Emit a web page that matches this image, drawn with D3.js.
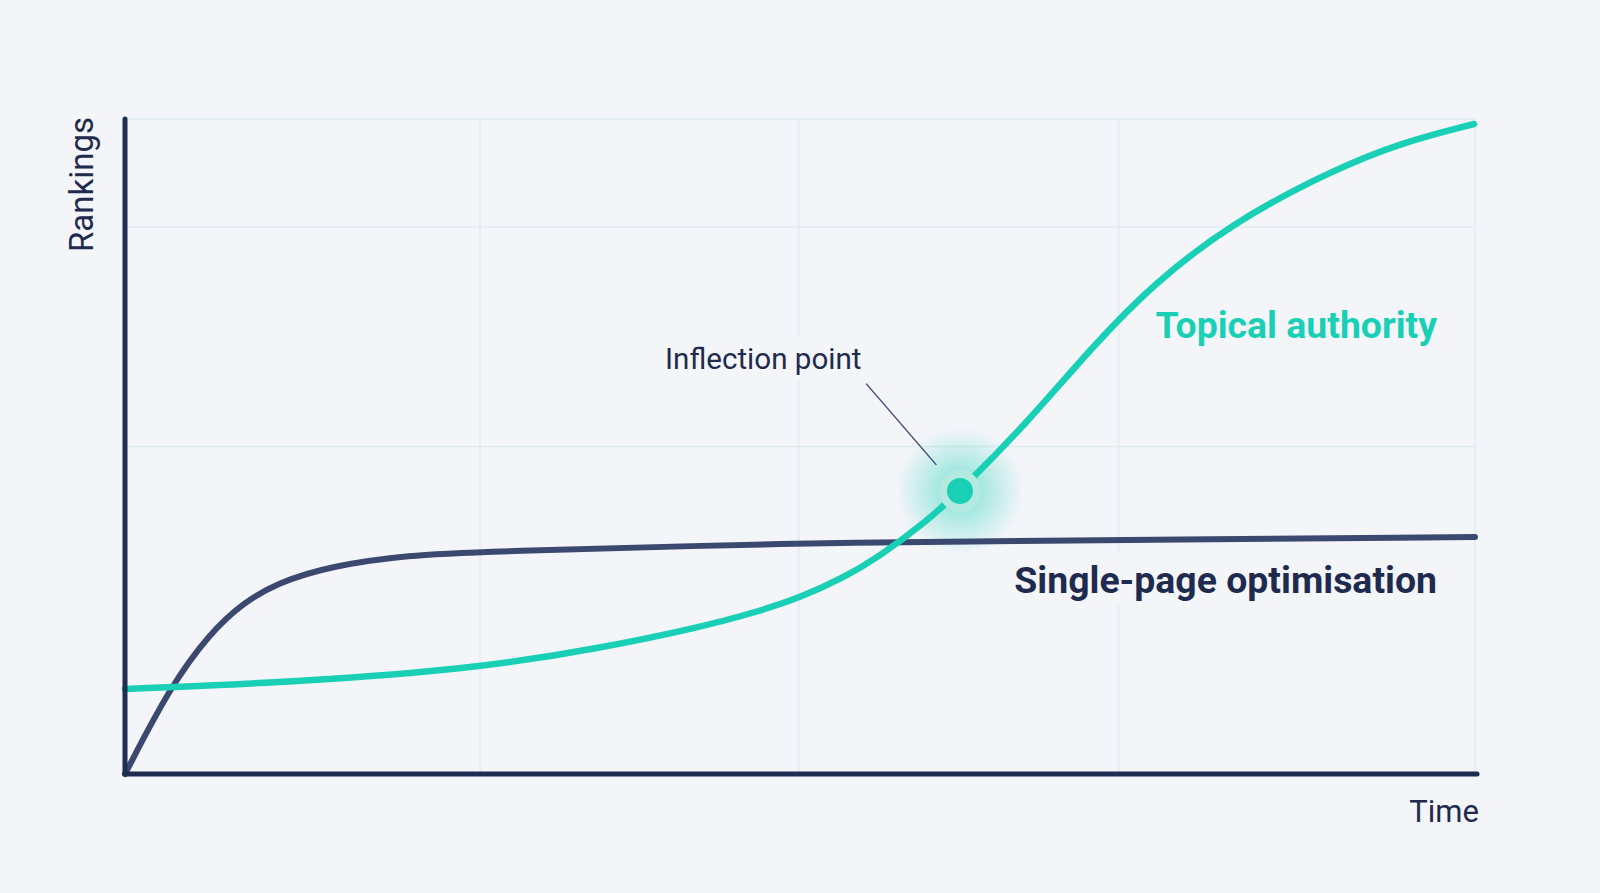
<!DOCTYPE html>
<html>
<head>
<meta charset="utf-8">
<script src="https://cdn.jsdelivr.net/npm/d3@7"></script>
<style>
    html, body { margin: 0; padding: 0; background: #f4f5f9; }
    svg { display: block; font-family: Roboto, "Noto Sans", sans-serif; }
</style>
</head>
<body>
<div id="chart"></div>
<script>
// Time runs 0..100 along x, rankings 0..100 up y
const timeTicks = [26.3, 49.9, 73.6, 100];
const rankTicks = [50, 83.5, 100];

const singlePageTime = [0, 3.33, 6.3, 8.74, 11.26, 15.19, 21.11, 26.3, 50, 64.81, 100];
const singlePageRank = [0, 13.28, 21.53, 26.11, 29.16, 31.76, 33.44, 33.94, 35.27, 35.57, 36.18];

const topicalTime = [0, 12.96, 26.3, 35.19, 42.59, 47.04, 50, 53.19, 55.7, 59.41, 61.85, 66.81, 71.7, 76.15, 82.07, 89.48, 94.44, 99.93];
const topicalRank = [12.98, 14.05, 16.18, 19.2, 22.38, 24.89, 26.92, 29.93, 32.93, 38.6, 43.21, 53.59, 65.34, 74.81, 84.27, 92.21, 96.34, 99.24];

const inflection = { time: 61.85, rank: 43.21 };
const leaderFrom = { time: 54.9, rank: 59.6 };
const leaderTo = { time: 60.1, rank: 47.2 };

const labels = {
    yAxis: "Rankings",
    xAxis: "Time",
    inflection: "Inflection point",
    topical: "Topical authority",
    singlePage: "Single-page optimisation"
};

const colors = {
    background: "#f4f5f9",
    axis: "#1f2d52",
    singlePage: "#3b4870",
    topical: "#19d0b6",
    grid: "#dfecef",
    text: "#1f2b4e"
};

const width = 1600;
const height = 893;

const svg = d3.select("#chart")
    .append("svg")
        .attr("width", width)
        .attr("height", height);

svg.append("rect")
    .attr("width", width)
    .attr("height", height)
    .attr("fill", colors.background);

const x = d3.scaleLinear().domain([0, 100]).range([125, 1475]);
const y = d3.scaleLinear().domain([0, 100]).range([774, 119]);

// Grid
const grid = svg.append("g");
grid.selectAll(".vgrid")
    .data(timeTicks)
    .enter()
    .append("line")
        .attr("x1", d => x(d)).attr("x2", d => x(d))
        .attr("y1", y(100)).attr("y2", y(0))
        .attr("stroke", colors.grid)
        .attr("stroke-width", 1.5);
grid.selectAll(".hgrid")
    .data(rankTicks)
    .enter()
    .append("line")
        .attr("x1", x(0)).attr("x2", x(100))
        .attr("y1", d => y(d)).attr("y2", d => y(d))
        .attr("stroke", colors.grid)
        .attr("stroke-width", 1.5);

// Glow behind the inflection point
const defs = svg.append("defs");
const glow = defs.append("radialGradient").attr("id", "glow");
[
    { offset: "0%", opacity: 0.55 },
    { offset: "45%", opacity: 0.3 },
    { offset: "100%", opacity: 0 }
].forEach(s => {
    glow.append("stop")
        .attr("offset", s.offset)
        .attr("stop-color", colors.topical)
        .attr("stop-opacity", s.opacity);
});

svg.append("circle")
    .attr("cx", x(inflection.time))
    .attr("cy", y(inflection.rank))
    .attr("r", 64)
    .attr("fill", "url(#glow)");

// Lines (B-spline to keep the hand-read points smooth)
const line = d3.line()
    .x(d => x(d[0]))
    .y(d => y(d[1]))
    .curve(d3.curveBasis);

svg.append("path")
    .datum(singlePageTime.map((t, i) => [t, singlePageRank[i]]))
    .attr("d", line)
    .attr("fill", "none")
    .attr("stroke", colors.singlePage)
    .attr("stroke-width", 6)
    .attr("stroke-linecap", "round");

svg.append("path")
    .datum(topicalTime.map((t, i) => [t, topicalRank[i]]))
    .attr("d", line)
    .attr("fill", "none")
    .attr("stroke", colors.topical)
    .attr("stroke-width", 6.5)
    .attr("stroke-linecap", "round");

// Inflection dot with light ring
svg.append("circle")
    .attr("cx", x(inflection.time))
    .attr("cy", y(inflection.rank))
    .attr("r", 21)
    .attr("fill", "#b3eadf");
svg.append("circle")
    .attr("cx", x(inflection.time))
    .attr("cy", y(inflection.rank))
    .attr("r", 13)
    .attr("fill", colors.topical);

svg.append("line")
    .attr("x1", x(leaderFrom.time)).attr("y1", y(leaderFrom.rank))
    .attr("x2", x(leaderTo.time)).attr("y2", y(leaderTo.rank))
    .attr("stroke", colors.singlePage)
    .attr("stroke-width", 1.4);

// Axes
const axes = svg.append("g")
    .attr("stroke", colors.axis)
    .attr("stroke-width", 5)
    .attr("stroke-linecap", "round");
axes.append("line")
    .attr("x1", x(0)).attr("x2", x(0))
    .attr("y1", y(0)).attr("y2", y(100));
axes.append("line")
    .attr("x1", x(0)).attr("x2", x(100) + 2)
    .attr("y1", y(0)).attr("y2", y(0));

// Text with a background box so gridlines break around it
const addLabel = (txt, px, py, anchor, size, weight, fill) => {
    const g = svg.append("g");
    const t = g.append("text")
        .attr("x", px)
        .attr("y", py)
        .attr("text-anchor", anchor)
        .attr("font-size", size)
        .attr("font-weight", weight)
        .attr("fill", fill)
        .text(txt);
    const bb = t.node().getBBox();
    g.insert("rect", "text")
        .attr("x", bb.x - 6)
        .attr("y", bb.y - 6)
        .attr("width", bb.width + 12)
        .attr("height", bb.height + 10)
        .attr("fill", colors.background);
};

addLabel(labels.inflection, 665, 369, "start", 29.6, 400, colors.text);
addLabel(labels.topical, 1437, 338, "end", 37.4, 700, colors.topical);
addLabel(labels.singlePage, 1437, 593, "end", 37.4, 700, colors.text);

svg.append("text")
    .attr("x", 1479)
    .attr("y", 822)
    .attr("text-anchor", "end")
    .attr("font-size", 31)
    .attr("fill", colors.text)
    .text(labels.xAxis);

svg.append("text")
    .attr("transform", "translate(93, 252) rotate(-90)")
    .attr("text-anchor", "start")
    .attr("font-size", 33)
    .attr("fill", colors.text)
    .text(labels.yAxis);
</script>
</body>
</html>
